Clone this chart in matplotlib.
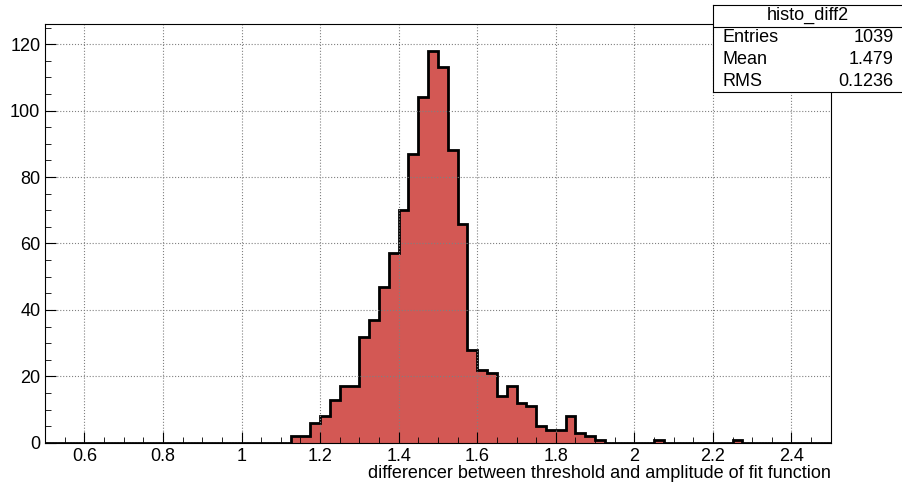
import numpy as np
import matplotlib
matplotlib.use("Agg")
import matplotlib.pyplot as plt

plt.rcParams['font.family'] = ['Liberation Sans', 'DejaVu Sans']

# bin edges 0.5 .. 2.5, width 0.025
edges = np.linspace(0.5, 2.5, 81)
start = 1.125
vals = [2, 2, 6, 8, 13, 17, 17, 32, 37, 47, 57, 70, 87, 104, 118, 113, 88, 66,
        28, 22, 21, 14, 17, 12, 11, 5, 4, 4, 8, 3, 2, 1, 0, 0, 0, 0, 0, 1, 0, 0,
        0, 0, 0, 0, 0, 1]
counts = np.zeros(80)
i0 = int(round((start - 0.5) / 0.025))
counts[i0:i0 + len(vals)] = vals

fig = plt.figure(figsize=(9.03, 4.84), dpi=100)
ax = fig.add_axes([0.05, 0.085, 0.87, 0.865])
ax.stairs(counts, edges, fill=True, color="#d35854")
ax.stairs(counts, edges, color="black", lw=2)
ax.set_xlim(0.5, 2.5)
ax.set_ylim(0, 126)
ax.set_xticks(np.arange(0.6, 2.41, 0.2))
ax.set_xticklabels(["0.6", "0.8", "1", "1.2", "1.4", "1.6", "1.8", "2", "2.2", "2.4"])
ax.set_xticks(np.arange(0.5, 2.51, 0.05), minor=True)
ax.set_yticks(np.arange(0, 121, 20))
ax.set_yticks(np.arange(0, 126, 5), minor=True)
ax.grid(True, ls=":", color="gray", lw=0.8)
ax.tick_params(direction="in", labelsize=13, length=8)
ax.tick_params(which="minor", direction="in", length=4)
ax.set_xlabel("differencer between threshold and amplitude of fit function", fontsize=13, loc="right", labelpad=0)

# stats box
bx = fig.add_axes([0.79, 0.81, 0.21, 0.18])
bx.set_xticks([]); bx.set_yticks([])
bx.set_xlim(0, 1); bx.set_ylim(0, 4)
bx.axhline(3, color="black", lw=0.8)
bx.text(0.5, 3.5, "histo_diff2", ha="center", va="center", fontsize=13)
for k, (a, b) in enumerate([("Entries", "1039"), ("Mean", "1.479"), ("RMS", "0.1236")]):
    y = 2.5 - k
    bx.text(0.05, y, a, va="center", fontsize=13)
    bx.text(0.95, y, b, va="center", ha="right", fontsize=13)

fig.savefig("out.png")
